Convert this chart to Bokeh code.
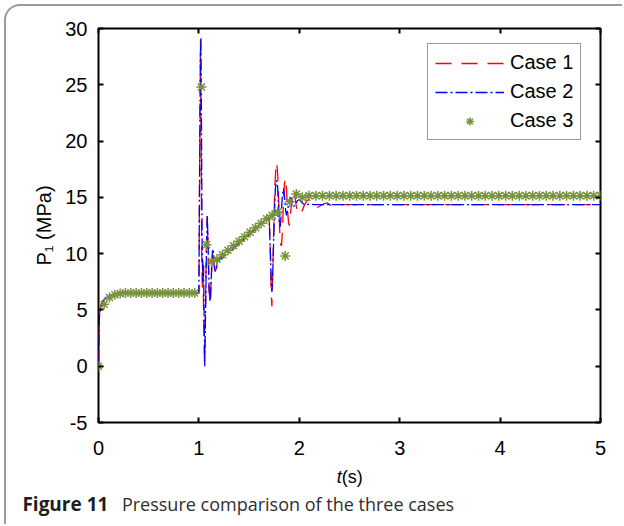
from bokeh.plotting import figure
from bokeh.models import (Range1d, LinearAxis, Legend, LegendItem, FixedTicker)
from bokeh.layouts import column
from bokeh.core.properties import value
from bokeh.embed import file_html
from bokeh.resources import INLINE

# ---------------- data ----------------
x_ticks = [0, 1, 2, 3, 4, 5]
y_ticks = [-5, 0, 5, 10, 15, 20, 25, 30]
y_tick_text = {-5: "-5"}

# Case 1 (red dashed)
t1 = [0.0, 0.004, 0.008, 0.012, 0.02, 0.03, 0.045, 0.06, 0.08, 0.1, 0.13, 0.16, 0.2, 0.25, 0.3, 0.4, 0.6, 0.8, 1.0,
      1.008, 1.016, 1.022, 1.028, 1.034, 1.04, 1.048, 1.056, 1.065, 1.075, 1.082, 1.09, 1.1, 1.112, 1.122, 1.133,
      1.14, 1.15, 1.162, 1.172, 1.185,
      1.2, 1.25, 1.3, 1.35, 1.4, 1.45, 1.5, 1.55, 1.6, 1.65, 1.7,
      1.712, 1.72, 1.727, 1.735, 1.745, 1.755, 1.765, 1.775, 1.785, 1.795, 1.805, 1.815, 1.823, 1.832, 1.842,
      1.852, 1.862, 1.872, 1.882, 1.892, 1.9, 1.91, 1.922, 1.935, 1.946, 1.958, 1.97, 1.98, 1.99, 2.0,
      2.02, 2.05, 2.08, 2.1, 2.13, 2.16, 2.18, 2.21, 2.25, 2.28, 2.31, 2.34, 2.37, 2.4, 3.0, 4.0, 5.0]
p1 = [0.0, 2.5, 4.2, 4.8, 5.2, 5.5, 5.8, 6.0, 6.15, 6.25, 6.35, 6.42, 6.46, 6.5, 6.5, 6.5, 6.5, 6.5, 6.5,
      18.0, 29.0, 20.0, 10.0, 7.0, 9.5, 4.0, 0.2, 5.0, 11.0, 13.3, 11.0, 7.0, 5.5, 7.5, 10.0,
      10.3, 9.2, 8.1, 8.5, 9.3,
      9.4, 9.7, 10.1, 10.5, 10.9, 11.3, 11.7, 12.1, 12.5, 12.9, 13.2,
      10.0, 6.5, 5.3, 8.0, 12.0, 15.5, 17.5, 18.1, 17.0, 14.5, 12.0, 10.8, 10.7, 12.0, 14.5,
      16.2, 16.7, 15.8, 14.0, 12.8, 12.5, 13.2, 14.5, 15.4, 15.6, 15.0, 14.2, 13.8, 13.6, 13.7,
      13.6, 14.3, 14.75, 14.8, 14.5, 14.15, 14.1, 14.25, 14.45, 14.5, 14.3, 14.25, 14.35, 14.35, 14.35, 14.35, 14.35]

# Case 2 (blue dash-dot)
t2 = [0.0, 0.004, 0.008, 0.012, 0.02, 0.03, 0.045, 0.06, 0.08, 0.1, 0.13, 0.16, 0.2, 0.25, 0.3, 0.4, 0.6, 0.8, 1.0,
      1.006, 1.014, 1.02, 1.026, 1.032, 1.038, 1.046, 1.054, 1.058, 1.066, 1.076, 1.084, 1.092, 1.102, 1.114,
      1.124, 1.135, 1.142, 1.152, 1.164, 1.174, 1.187,
      1.2, 1.25, 1.3, 1.35, 1.4, 1.45, 1.5, 1.55, 1.6, 1.65, 1.7,
      1.712, 1.722, 1.728, 1.738, 1.75, 1.762, 1.772, 1.782, 1.792, 1.803, 1.81, 1.82, 1.832, 1.842, 1.852,
      1.862, 1.872, 1.885, 1.9, 1.915, 1.93, 1.945, 1.96, 1.98, 2.0,
      2.03, 2.06, 2.1, 2.15, 2.2, 3.0, 4.0, 5.0]
p2 = [0.0, 2.0, 4.0, 4.7, 5.1, 5.45, 5.75, 5.95, 6.1, 6.22, 6.33, 6.4, 6.45, 6.49, 6.5, 6.5, 6.5, 6.5, 6.5,
      16.0, 27.0, 29.2, 21.0, 11.0, 7.5, 9.0, 3.0, 0.0, 4.5, 10.5, 13.4, 10.5, 6.8, 5.8,
      8.0, 10.2, 10.3, 9.0, 8.4, 8.8, 9.4,
      9.5, 9.8, 10.1, 10.5, 10.9, 11.3, 11.7, 12.1, 12.5, 12.9, 13.2,
      10.0, 7.0, 6.6, 9.0, 13.0, 15.8, 16.5, 16.3, 14.5, 12.6, 12.4, 13.5, 15.2, 15.8, 15.2,
      14.0, 13.4, 13.9, 14.8, 15.0, 14.6, 14.2, 14.3, 14.7, 14.8,
      14.5, 14.3, 14.4, 14.35, 14.35, 14.35, 14.35, 14.35]

# Case 3 (green asterisks)
t3 = [0.0, 0.056, 0.11, 0.163, 0.216, 0.269, 0.322, 0.375, 0.428, 0.481, 0.534, 0.587, 0.64, 0.693, 0.746,
      0.799, 0.852, 0.905, 0.958,
      1.025, 1.076, 1.125, 1.18, 1.235, 1.29, 1.345, 1.4, 1.455, 1.51, 1.565, 1.62, 1.675, 1.73, 1.785,
      1.86, 1.905, 1.97,
      2.03, 2.097, 2.165, 2.232, 2.3, 2.367, 2.435, 2.502, 2.57, 2.637, 2.705, 2.772, 2.84, 2.907, 2.975,
      3.042, 3.11, 3.177, 3.245, 3.312, 3.38, 3.447, 3.515, 3.582, 3.65, 3.717, 3.785, 3.852, 3.92, 3.987,
      4.055, 4.122, 4.19, 4.257, 4.325, 4.392, 4.46, 4.527, 4.595, 4.662, 4.73, 4.797, 4.865, 4.932, 5.0]
p3 = [0.0, 5.5, 6.1, 6.35, 6.45, 6.5, 6.5, 6.5, 6.5, 6.5, 6.5, 6.5, 6.5, 6.5, 6.5,
      6.5, 6.5, 6.5, 6.5,
      24.8, 10.8, 9.3, 9.5, 9.9, 10.3, 10.7, 11.1, 11.5, 11.9, 12.3, 12.7, 13.1, 13.4, 13.7,
      9.8, 14.6, 15.3,
      15.0, 15.15, 15.15, 15.15, 15.15, 15.15, 15.15, 15.15, 15.15, 15.15, 15.15, 15.15, 15.15, 15.15, 15.15,
      15.15, 15.15, 15.15, 15.15, 15.15, 15.15, 15.15, 15.15, 15.15, 15.15, 15.15, 15.15, 15.15, 15.15, 15.15,
      15.15, 15.15, 15.15, 15.15, 15.15, 15.15, 15.15, 15.15, 15.15, 15.15, 15.15, 15.15, 15.15, 15.15, 15.15]

series_names = ["Case 1", "Case 2", "Case 3"]
y_label = "P\u2081 (MPa)"
x_label_parts = ["t", "(s)"]
caption_parts = ["Figure 11", "Pressure comparison of the three cases"]

AX_FONT = "Liberation Sans"
CAP_FONT = "Open Sans"

# ---------------- main figure ----------------
W = 616
H1 = 456
FL, FR, FT, FB = 92, 22, 22, 40

p = figure(width=W, height=H1, output_backend="svg", toolbar_location=None,
           x_range=Range1d(0, 5), y_range=Range1d(-5, 30),
           min_border_left=FL, min_border_right=FR, min_border_top=FT, min_border_bottom=FB,
           background_fill_color="white", border_fill_color=None)
p.frame_align = False
p.grid.visible = False
p.outline_line_color = "black"
p.outline_line_width = 2


def style_axis(ax, ticks, show):
    ax.ticker = FixedTicker(ticks=ticks)
    ax.axis_line_color = None
    ax.major_tick_in = 5
    ax.major_tick_out = 0
    ax.major_tick_line_width = 2
    ax.major_tick_line_color = "black"
    ax.minor_tick_line_color = None
    ax.major_label_text_font = AX_FONT
    if show:
        ax.major_label_text_font_size = "20px"
        ax.major_label_text_color = "black"
    else:
        ax.major_label_text_font_size = "0px"
        ax.major_label_text_color = None


style_axis(p.xaxis[0], x_ticks, True)
style_axis(p.yaxis[0], y_ticks, True)
p.xaxis[0].major_label_standoff = 18
p.yaxis[0].major_label_standoff = 11
p.yaxis[0].major_label_overrides = y_tick_text
p.yaxis[0].axis_label = y_label
p.yaxis[0].axis_label_text_font = AX_FONT
p.yaxis[0].axis_label_text_font_size = "20px"
p.yaxis[0].axis_label_text_font_style = "normal"
p.yaxis[0].axis_label_text_color = "black"
p.yaxis[0].axis_label_standoff = 7

ax_r = LinearAxis()
style_axis(ax_r, y_ticks, False)
p.add_layout(ax_r, "right")
ax_t = LinearAxis()
style_axis(ax_t, x_ticks, False)
p.add_layout(ax_t, "above")

r1 = p.line(t1, p1, line_color="#ff0000", line_width=1.3, line_dash="16 10")
r2 = p.line(t2, p2, line_color="#0000ff", line_width=1.3, line_dash="12 3 2 3")
r3 = p.scatter(t3, p3, marker="asterisk", size=10, line_color="#76923c", line_width=1.5)

legend = Legend(items=[LegendItem(label=series_names[0], renderers=[r1]),
                       LegendItem(label=series_names[1], renderers=[r2]),
                       LegendItem(label=series_names[2], renderers=[r3])],
                location=(329, 282), margin=0, padding=7, spacing=6,
                glyph_width=69, glyph_height=20, label_height=20, label_width=57,
                label_standoff=6, label_text_font=AX_FONT, label_text_font_size="20px",
                label_text_color="black", border_line_color="#3a3a3a", border_line_width=1,
                background_fill_color="white", background_fill_alpha=1)
p.add_layout(legend)

# ---------------- strip under the chart: x label and caption ----------------
H2 = 62
q = figure(width=W, height=H2, output_backend="svg", toolbar_location=None,
           x_range=Range1d(0, W), y_range=Range1d(H2, 0),
           x_axis_type=None, y_axis_type=None, min_border=0,
           background_fill_color=None, border_fill_color=None)
q.frame_align = False
q.grid.visible = False
q.outline_line_color = None

q.text(x=[330.3], y=[14], text=[x_label_parts[0]], text_font=value(AX_FONT),
       text_font_size=value("18px"), text_font_style=value("italic"),
       text_color="black", text_baseline="alphabetic", text_align="left")
q.text(x=[335.3], y=[14], text=[x_label_parts[1]], text_font=value(AX_FONT),
       text_font_size=value("18px"), text_font_style=value("normal"),
       text_color="black", text_baseline="alphabetic", text_align="left")
q.text(x=[15.9], y=[41], text=[caption_parts[0]], text_font=value(CAP_FONT),
       text_font_size=value("19px"), text_font_style=value("bold"),
       text_color="#1e1e1e", text_baseline="alphabetic", text_align="left")
q.text(x=[115.4], y=[41], text=[caption_parts[1]], text_font=value(CAP_FONT),
       text_font_size=value("18px"), text_font_style=value("normal"),
       text_color="#2e2e2e", text_baseline="alphabetic", text_align="left")

layout = column(p, q, spacing=0,
                styles={"margin-left": "4px", "margin-top": "4px",
                        "border-left": "2px solid #9a9a9a", "border-top": "2px solid #9a9a9a",
                        "border-top-left-radius": "16px"})

open("out.html", "w").write(file_html(layout, INLINE))
